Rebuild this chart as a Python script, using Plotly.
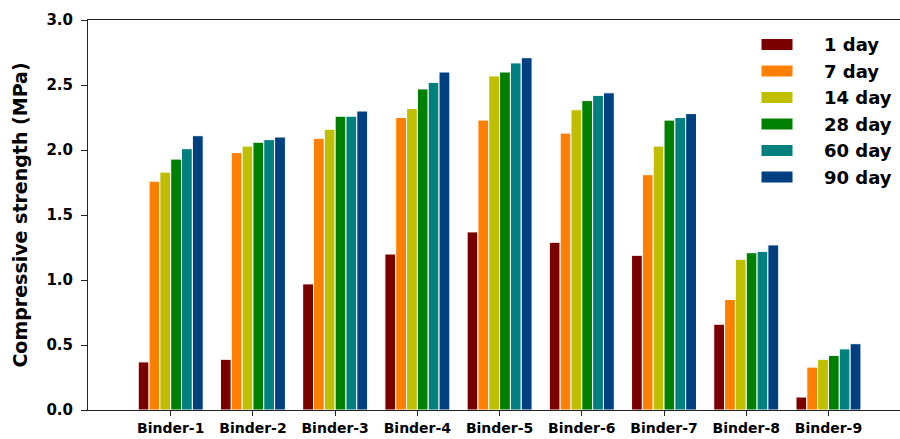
import plotly.graph_objects as go

binders = ["Binder-1", "Binder-2", "Binder-3", "Binder-4", "Binder-5",
           "Binder-6", "Binder-7", "Binder-8", "Binder-9"]

day1 = [0.37, 0.39, 0.97, 1.20, 1.37, 1.29, 1.19, 0.66, 0.10]
day7 = [1.76, 1.98, 2.09, 2.25, 2.23, 2.13, 1.81, 0.85, 0.33]
day14 = [1.83, 2.03, 2.16, 2.32, 2.57, 2.31, 2.03, 1.16, 0.39]
day28 = [1.93, 2.06, 2.26, 2.47, 2.60, 2.38, 2.23, 1.21, 0.42]
day60 = [2.01, 2.08, 2.26, 2.52, 2.67, 2.42, 2.25, 1.22, 0.47]
day90 = [2.11, 2.10, 2.30, 2.60, 2.71, 2.44, 2.28, 1.27, 0.51]

series_names = ["1 day", "7 day", "14 day", "28 day", "60 day", "90 day"]
series_values = [day1, day7, day14, day28, day60, day90]
series_colors = ["#7A0000", "#FF8000", "#BFBF00", "#008000", "#007F7F", "#003F80"]

FONT = "DejaVu Sans"

fig = go.Figure()
for name, vals, col in zip(series_names, series_values, series_colors):
    fig.add_trace(go.Bar(
        x=binders, y=vals, name=name,
        marker=dict(color=col, line=dict(color="white", width=1)),
        showlegend=False,
    ))

# Manual legend (wide swatches like the reference)
W, H = 900, 439
L, R, T, B = 88, 0, 20, 29
pw, ph = W - L - R, H - T - B
def px(x):
    return (x - L) / pw
def py(y):
    return (H - B - y) / ph

row0, rowstep = 44.5, 26.5
for i, (name, col) in enumerate(zip(series_names, series_colors)):
    cy = row0 + i * rowstep
    fig.add_shape(type="rect", xref="paper", yref="paper",
                  x0=px(761), x1=px(793), y0=py(cy - 6), y1=py(cy + 6),
                  fillcolor=col, line=dict(color="white", width=1))
    fig.add_annotation(xref="paper", yref="paper", x=px(822), y=py(cy),
                       text=name, showarrow=False, xanchor="left", yanchor="middle",
                       font=dict(family=FONT, size=18, color="black", weight="bold"))

fig.update_layout(
    width=W, height=H,
    margin=dict(l=L, r=R, t=T, b=B, pad=0, autoexpand=False),
    plot_bgcolor="white", paper_bgcolor="white",
    barmode="group", bargap=0.21, bargroupgap=0,
    font=dict(family=FONT, color="black"),
)
fig.update_xaxes(
    range=[-1.006, 8.87], showline=True, linecolor="#222", linewidth=1, mirror=True,
    ticks="outside", ticklen=5, tickcolor="#222", showgrid=False,
    ticklabelstandoff=0,
    tickfont=dict(family=FONT, size=14, color="black", weight="bold"),
)
fig.update_yaxes(
    range=[0, 3], dtick=0.5, tickformat=".1f", showline=True, linecolor="#222",
    linewidth=1, ticks="outside", ticklen=6, tickcolor="#222", showgrid=False,
    zeroline=False, ticklabelstandoff=5,
    tickfont=dict(family=FONT, size=15, color="black", weight="bold"),
    title=dict(text="Compressive strength (MPa)", standoff=13,
               font=dict(family=FONT, size=19, color="black", weight="bold")),
)

fig.write_html(
    "out.html",
    config={"displayModeBar": False},
    post_script="document.body.style.margin='0';document.body.style.overflow='hidden';",
)
